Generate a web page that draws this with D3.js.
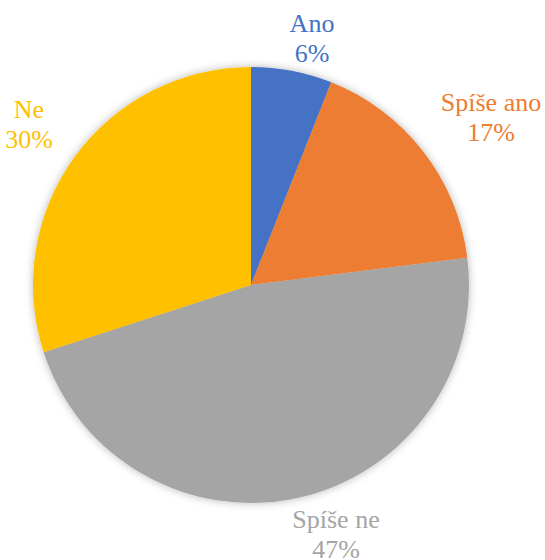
<!DOCTYPE html>
<html>
<head>
<meta charset="utf-8">
<script src="https://cdn.jsdelivr.net/npm/d3@7/dist/d3.min.js"></script>
<style>
  html, body { margin: 0; padding: 0; background: #fff; overflow: hidden; }
  svg { display: block; }
</style>
</head>
<body>
<script>
// Survey answers and their shares (%)
const categories = ["Ano", "Spíše ano", "Spíše ne", "Ne"];
const values = [6, 17, 47, 30];
const colors = ["#4472C4", "#ED7D31", "#A5A5A5", "#FFC000"];
// Label anchor points (centre of the two-line label, first baseline)
const labelPos = [[312, 32], [491, 111], [336, 528], [29, 118]];

const W = 545, H = 560;
const cx = 251, cy = 285, R = 218;
const serif = "'Liberation Serif', Tinos, 'Times New Roman', serif";

const svg = d3.select("body").append("svg")
  .attr("width", W).attr("height", H);

// soft glow around the pie
const defs = svg.append("defs");
const f = defs.append("filter").attr("id", "glow")
  .attr("x", "-20%").attr("y", "-20%").attr("width", "140%").attr("height", "140%");
f.append("feGaussianBlur").attr("in", "SourceAlpha").attr("stdDeviation", 4).attr("result", "b");
f.append("feFlood").attr("flood-color", "#000").attr("flood-opacity", 0.28);
f.append("feComposite").attr("in2", "b").attr("operator", "in").attr("result", "s");
const m = f.append("feMerge");
m.append("feMergeNode").attr("in", "s");
m.append("feMergeNode").attr("in", "SourceGraphic");

const data = categories.map((c, i) => ({ name: c, value: values[i], color: colors[i], pos: labelPos[i] }));

const pie = d3.pie().value(d => d.value).sort(null);
const arc = d3.arc().innerRadius(0).outerRadius(R);

const g = svg.append("g").attr("transform", `translate(${cx},${cy})`);
g.append("g").attr("filter", "url(#glow)")
  .selectAll("path").data(pie(data)).join("path")
  .attr("d", arc)
  .attr("fill", d => d.data.color);

// data labels: category name and share
const total = d3.sum(values);
const lt = svg.append("g").attr("text-anchor", "middle")
  .selectAll("text").data(data).join("text")
  .style("font-family", serif, "important")
  .style("font-size", "26px", "important")
  .attr("x", d => d.pos[0]).attr("y", d => d.pos[1])
  .attr("fill", d => d.color);
lt.append("tspan").attr("x", d => d.pos[0])
  .style("font-family", serif, "important")
  .text(d => d.name);
lt.append("tspan").attr("x", d => d.pos[0]).attr("dy", 30)
  .style("font-family", serif, "important")
  .text(d => Math.round(d.value / total * 100) + "%");
</script>
</body>
</html>
